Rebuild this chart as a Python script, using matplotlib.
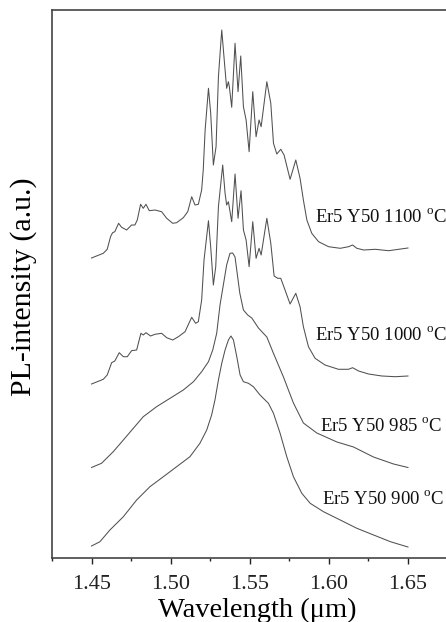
import matplotlib
matplotlib.use("Agg")
import matplotlib.pyplot as plt
from matplotlib.ticker import MultipleLocator

plt.rcParams['font.family'] = ['Liberation Serif', 'DejaVu Serif']
plt.rcParams['mathtext.fontset'] = 'custom'
plt.rcParams['mathtext.rm'] = 'Liberation Serif'

# PL spectra (wavelength in um, intensity in a.u. above each curve's own start)
wl_1100 = [1.4500, 1.4574, 1.4599, 1.4620, 1.4633, 1.4647, 1.4671, 1.4690, 1.4722, 1.4753,
           1.4774, 1.4789, 1.4810, 1.4827, 1.4844, 1.4865, 1.4901, 1.4943, 1.4975, 1.5013,
           1.5038, 1.5080, 1.5108, 1.5133, 1.5154, 1.5175, 1.5196, 1.5206, 1.5218, 1.5239,
           1.5253, 1.5270, 1.5287, 1.5302, 1.5323, 1.5337, 1.5354, 1.5365, 1.5371, 1.5386,
           1.5407, 1.5426, 1.5443, 1.5460, 1.5477, 1.5496, 1.5519, 1.5540, 1.5559, 1.5572,
           1.5608, 1.5633, 1.5650, 1.5671, 1.5696, 1.5717, 1.5755, 1.5791, 1.5818, 1.5839,
           1.5861, 1.5892, 1.5935, 1.5998, 1.6072, 1.6125, 1.6150, 1.6177, 1.6220, 1.6293,
           1.6378, 1.6441, 1.6500]
pl_1100 = [0, 4.7, 8.7, 21.3, 25.3, 26.3, 34.7, 30.7, 28, 33,
           33, 38, 53.7, 49.7, 53.7, 47.3, 48, 46.3, 39.7, 34.7,
           35.3, 40.3, 46.3, 61.3, 53, 53.7, 68, 88, 128, 169.7,
           145, 93, 111.3, 181.3, 228, 201.3, 169.7, 176.3, 171.3, 150.7,
           214.7, 166.3, 202, 151.3, 138, 106.3, 166.3, 121.3, 138, 131.3,
           176.3, 154.7, 114.7, 104, 108.7, 103, 78.7, 98, 79.7, 58,
           38, 24.7, 16.3, 11.3, 9.7, 11.3, 13, 9.7, 8, 8.7,
           7.3, 8.7, 10]

wl_1000 = [1.4500, 1.4574, 1.4599, 1.4627, 1.4647, 1.4675, 1.4701, 1.4726, 1.4753, 1.4785,
           1.4812, 1.4827, 1.4844, 1.4873, 1.4901, 1.4943, 1.4975, 1.5013, 1.5049, 1.5091,
           1.5133, 1.5158, 1.5175, 1.5196, 1.5211, 1.5239, 1.5253, 1.5270, 1.5285, 1.5302,
           1.5329, 1.5344, 1.5354, 1.5365, 1.5386, 1.5407, 1.5426, 1.5445, 1.5460, 1.5477,
           1.5496, 1.5519, 1.5540, 1.5559, 1.5572, 1.5608, 1.5633, 1.5654, 1.5677, 1.5696,
           1.5723, 1.5755, 1.5791, 1.5818, 1.5839, 1.5871, 1.5913, 1.5976, 1.6061, 1.6124,
           1.6150, 1.6188, 1.6251, 1.6335, 1.6420, 1.6500]
pl_1000 = [0, 4.7, 9, 21.3, 23, 31.3, 27.3, 27.3, 33.3, 34,
           50.7, 49, 51.3, 48, 49.7, 50.7, 46.3, 44, 47.3, 52.3,
           66.7, 60.7, 62.3, 84, 124, 163.3, 137.3, 99, 117.3, 177.3,
           219, 190.7, 179, 182.3, 162.3, 210, 165.7, 193.3, 154, 144,
           117.3, 162.3, 125.7, 135.7, 129, 165.7, 140.7, 108, 105.7, 105.7,
           94, 80, 90.7, 77.3, 57.3, 37.3, 25.7, 19, 14.7, 14.7,
           16.3, 13, 10, 8, 7.3, 8]

wl_985 = [1.4500, 1.4563, 1.4637, 1.4701, 1.4764, 1.4827, 1.4911, 1.4996, 1.5080, 1.5144,
          1.5196, 1.5239, 1.5266, 1.5291, 1.5312, 1.5333, 1.5354, 1.5375, 1.5392, 1.5407,
          1.5422, 1.5437, 1.5460, 1.5487, 1.5513, 1.5555, 1.5608, 1.5649, 1.5713, 1.5776,
          1.5839, 1.5924, 1.6051, 1.6156, 1.6282, 1.6409, 1.6500]
pl_985 = [0.5, 4.7, 16.3, 28, 39.7, 51.3, 61.3, 69.7, 78, 86.3,
          96.3, 106.3, 118, 134.7, 163, 183, 203, 214.7, 215, 211,
          193, 175, 158, 153, 150, 140, 131, 115, 91, 65,
          45, 35, 26, 21, 11, 4, 0.5]

wl_900 = [1.4500, 1.4553, 1.4616, 1.4701, 1.4785, 1.4869, 1.4954, 1.5038, 1.5122, 1.5185,
          1.5228, 1.5259, 1.5280, 1.5302, 1.5323, 1.5344, 1.5365, 1.5381, 1.5397, 1.5418,
          1.5439, 1.5460, 1.5492, 1.5523, 1.5565, 1.5618, 1.5650, 1.5692, 1.5734, 1.5776,
          1.5829, 1.5882, 1.5966, 1.6072, 1.6177, 1.6283, 1.6389, 1.6500]
pl_900 = [0, 4.3, 16, 29.3, 46, 59.3, 69.3, 79.3, 89.3, 102.7,
          116, 131, 146, 166, 182.7, 196, 206, 210, 206, 189.3,
          171, 164.3, 162.7, 159.3, 151, 142.7, 132.7, 112.7, 89.3, 69.3,
          52.7, 42.7, 34.3, 26, 17.7, 11, 4.3, -1]

labels = ['Er5 Y50 1100 $^{\\rm o}$C', 'Er5 Y50 1000 $^{\\rm o}$C',
          'Er5 Y50 985 $^{\\rm o}$C', 'Er5 Y50 900 $^{\\rm o}$C']
offsets = [300, 174, 90, 12]
label_x = [1.5911, 1.5911, 1.5943, 1.5956]
label_y = [341, 223, 132, 59]

fig = plt.figure(figsize=(4.46, 6.22), dpi=100)
ax = fig.add_axes([52 / 446, 64 / 622, 395.5 / 446, 548 / 622])

series = [(wl_1100, pl_1100), (wl_1000, pl_1000), (wl_985, pl_985), (wl_900, pl_900)]
for (wl, pl), off in zip(series, offsets):
    ax.plot(wl, [v + off for v in pl], color='#505050', lw=0.75)

for lab, lx, ly in zip(labels, label_x, label_y):
    ax.text(lx, ly, lab, fontsize=13.5, va='center', ha='left', color='#111111')

ax.set_xlim(1.425, 1.675)
ax.set_ylim(0, 548)
ax.xaxis.set_major_locator(MultipleLocator(0.05))
ax.xaxis.set_minor_locator(MultipleLocator(0.025))
ax.xaxis.set_major_formatter(plt.FormatStrFormatter('%.2f'))
ax.set_yticks([])
ax.tick_params(axis='x', which='major', direction='out', length=4, width=1,
               labelsize=16, pad=8, colors='#222222')
ax.tick_params(axis='x', which='minor', direction='out', length=2.5, width=1,
               colors='#222222')
for sp in ax.spines.values():
    sp.set_color('#444444')
    sp.set_linewidth(1.2)

ax.set_xlabel('Wavelength (\u03bcm)', fontsize=20.5)
ax.xaxis.set_label_coords(0.518, -0.073)
ax.set_ylabel('PL-intensity (a.u.)', fontsize=21.5)
ax.yaxis.set_label_coords(-0.038, 0.495)

fig.savefig('out.png', dpi=100)
